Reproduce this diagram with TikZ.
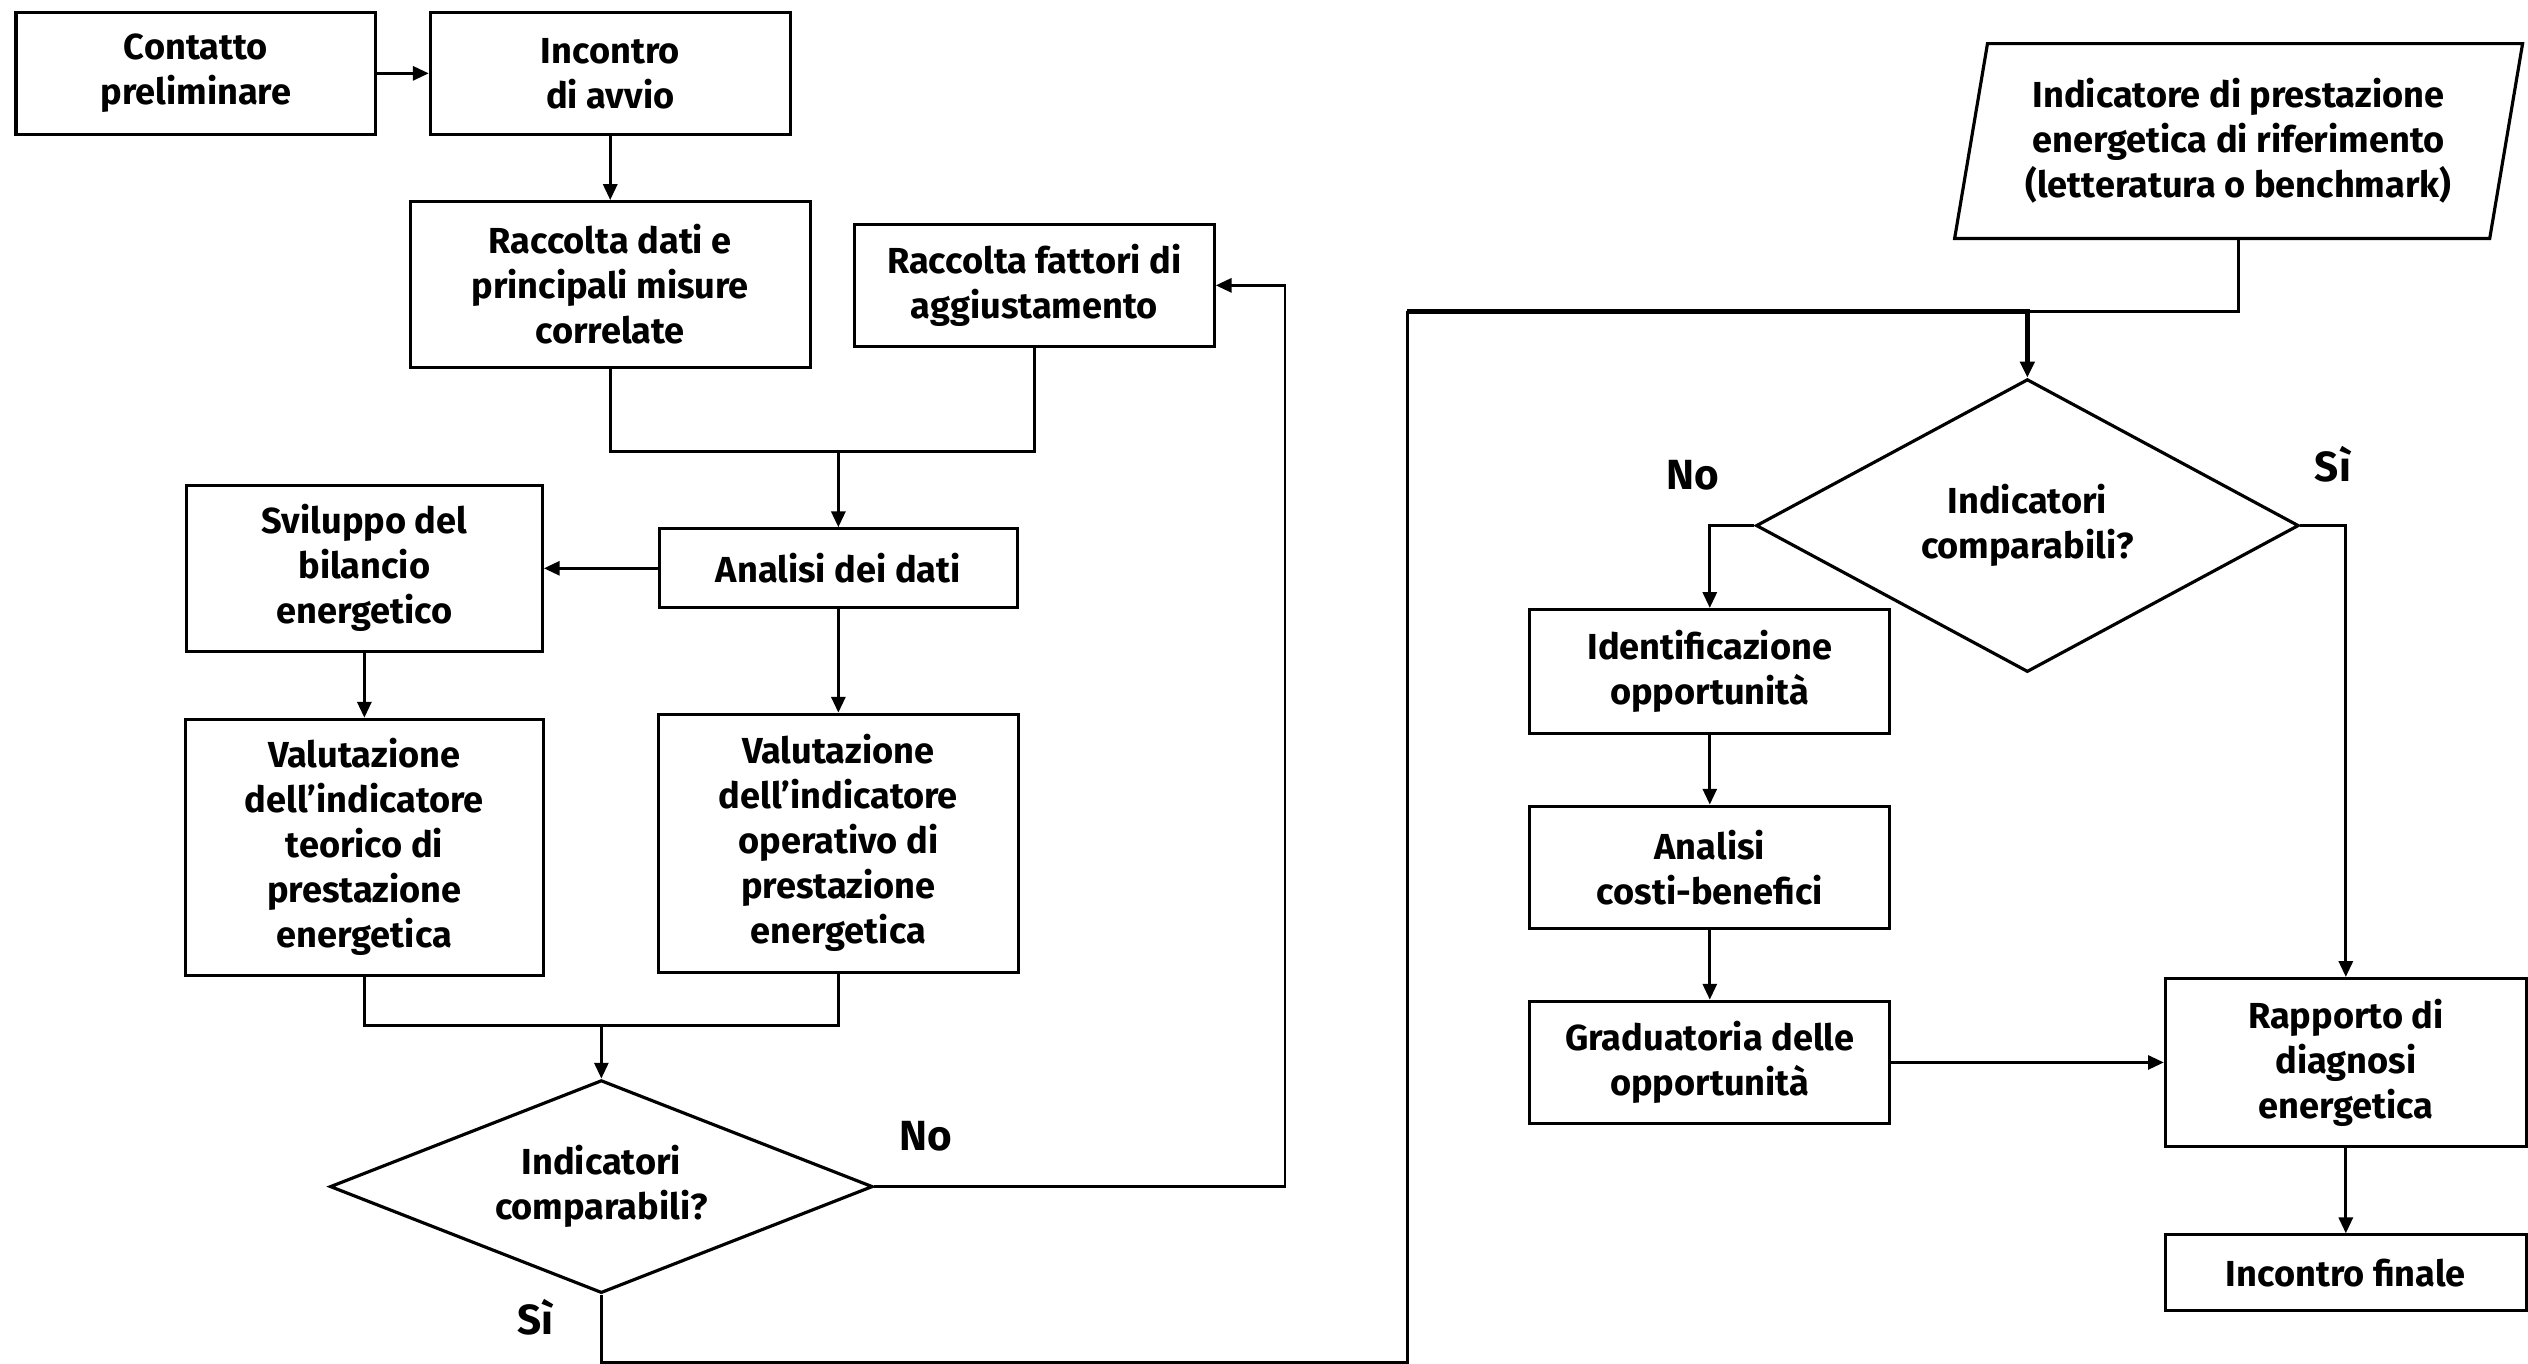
\documentclass[tikz,border=0pt]{standalone}
\usepackage{fontspec}
\setmainfont{Fira Sans}
\usetikzlibrary{arrows.meta,shapes.geometric}

\begin{document}
\begin{tikzpicture}[
	x=0.016122cm, y=-0.016122cm,
	box/.style={ draw, line width=0.9pt, align=center, inner sep=2pt, font=\fontsize{10.3}{12.8}\bfseries\selectfont, minimum width=3.6cm, minimum height=1.22cm },
	decision/.style={ draw, diamond, line width=0.9pt, align=center, inner sep=0pt, font=\fontsize{10.3}{12.8}\bfseries\selectfont, minimum width=5.43cm },
	inputbox/.style={ draw, trapezium, trapezium left angle=78.3, trapezium right angle=101.7, trapezium stretches=true, line width=0.9pt, align=center, inner sep=2pt, font=\fontsize{10.3}{12.8}\bfseries\selectfont, minimum width=5.69cm, minimum height=1.95cm },
	answer/.style={ font=\fontsize{12}{14}\bfseries\selectfont },
	flow/.style={ line width=0.8pt, -{Triangle[length=4.5pt,width=4pt]} },
	link/.style={ line width=0.8pt }
]
\useasboundingbox (0,0) rectangle (1568,846);

% left part
\node at (121.5,45.5) (contatto) [box] {Contatto\\preliminare};
\node at (378.5,45.5) (avvio) [box] {Incontro\\di avvio};
\node at (378.5,176.5) (raccolta) [box,minimum width=4cm,minimum height=1.66cm] {Raccolta dati e\\principali misure\\correlate};
\node at (641.5,177) (fattori) [box,minimum height=1.225cm] {Raccolta fattori di\\aggiustamento};
\node at (520,352.5) (analisi) [box,minimum width=3.58cm,minimum height=0.79cm] {Analisi dei dati};
\node at (226,352.5) (sviluppo) [box,minimum width=3.56cm,minimum height=1.66cm] {Sviluppo del\\bilancio\\energetico};
\node at (226,525.5) (teorico) [box,minimum width=3.58cm,minimum height=2.56cm] {Valutazione\\dell'indicatore\\teorico di\\prestazione\\energetica};
\node at (520,523) (operativo) [box,minimum width=3.6cm,minimum height=2.58cm] {Valutazione\\dell'indicatore\\operativo di\\prestazione\\energetica};
\node at (373,736) (dec1) [decision,aspect=2.55,minimum height=2.13cm] {Indicatori\\comparabili?};

\coordinate (m1) at (520,280);
\coordinate (m2) at (373,636);
\coordinate (back) at (797,177);
\coordinate (sbot) at (873,845);
\coordinate (stop) at (873,193);

\draw[flow] (contatto) -- (avvio);
\draw[flow] (avvio) -- (raccolta);
\draw[link] (raccolta.south) |- (m1) -| (fattori.south);
\draw[flow] (m1) -- (analisi);
\draw[flow] (analisi) -- (sviluppo);
\draw[flow] (sviluppo) -- (teorico);
\draw[flow] (analisi) -- (operativo);
\draw[link] (teorico.south) |- (m2) -| (operativo.south);
\draw[flow] (m2) -- (dec1.north);
\draw[flow] (dec1.east) -| (back) -- (fattori.east);
\node at (574,705) (no1) [answer] {No};
\node at (332,817) (si1) [answer] {Sì};

% right part
\node at (1388.5,87.5) (riferimento) [inputbox] {Indicatore di prestazione\\energetica di riferimento\\(letteratura o benchmark)};
\node at (1257.5,326) (dec2) [decision,aspect=1.85,minimum height=2.93cm] {Indicatori\\comparabili?};
\node at (1060.5,416.5) (identificazione) [box,minimum height=1.24cm] {Identificazione\\opportunità};
\node at (1060.5,538) (costi) [box,minimum height=1.225cm] {Analisi\\costi-benefici};
\node at (1060.5,659) (graduatoria) [box,minimum height=1.225cm] {Graduatoria delle\\opportunità};
\node at (1455,659) (rapporto) [box,minimum width=3.61cm,minimum height=1.68cm] {Rapporto di\\diagnosi\\energetica};
\node at (1455,789.5) (finale) [box,minimum width=3.61cm,minimum height=0.76cm] {Incontro finale};

\draw[link] (dec1.south) |- (sbot) -- (stop);
\draw[link] (riferimento.south) |- (dec2.north |- stop);
\draw[flow,line width=1.5pt] (stop) -| (dec2.north);
\draw[flow] (dec2.west) -| (identificazione.north);
\draw[flow] (dec2.east) -| (rapporto.north);
\draw[flow] (identificazione) -- (costi);
\draw[flow] (costi) -- (graduatoria);
\draw[flow] (graduatoria) -- (rapporto);
\draw[flow] (rapporto) -- (finale);
\node at (1050,295) (no2) [answer] {No};
\node at (1447,288) (si2) [answer] {Sì};

\end{tikzpicture}
\end{document}
